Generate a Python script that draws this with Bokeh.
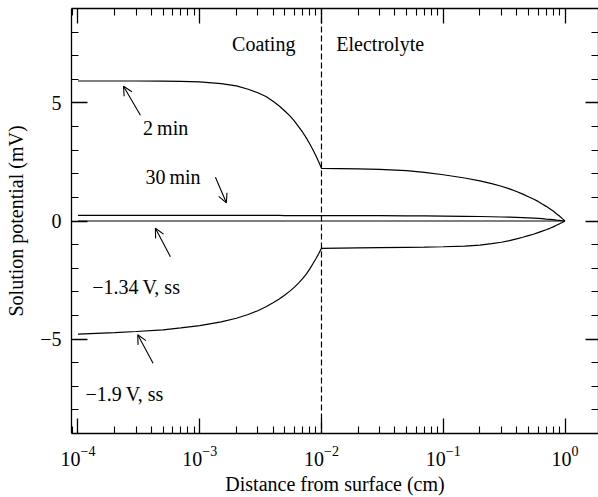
from bokeh.plotting import figure
from bokeh.models import (LogAxis, LinearAxis, FixedTicker, Span, Arrow, OpenHead,
                          Label, Range1d, ColumnDataSource, CustomJSTickFormatter)
from bokeh.embed import file_html
from bokeh.resources import INLINE

# ---------------- data ----------------
distance_cm = [1e-4, 2e-4, 3e-4, 5e-4, 7e-4, 1e-3, 1.5e-3, 2e-3, 2.5e-3, 3e-3, 3.5e-3, 4e-3,
               4.5e-3, 5e-3, 5.5e-3, 6e-3, 6.5e-3, 7e-3, 7.5e-3, 8e-3, 8.5e-3, 9e-3, 9.5e-3, 1e-2,
               2e-2, 3e-2, 5e-2, 7e-2, 0.1, 0.15, 0.2, 0.25, 0.3, 0.35, 0.4, 0.45,
               0.5, 0.55, 0.6, 0.65, 0.7, 0.75, 0.8, 0.85, 0.9, 0.95, 1.0]
phi_2min = [5.93, 5.93, 5.93, 5.92, 5.91, 5.89, 5.82, 5.72, 5.58, 5.43, 5.27, 5.07,
            4.87, 4.66, 4.45, 4.23, 3.99, 3.76, 3.52, 3.27, 3.02, 2.76, 2.50, 2.23,
            2.21, 2.19, 2.13, 2.06, 1.96, 1.82, 1.70, 1.58, 1.47, 1.36, 1.25, 1.14,
            1.03, 0.93, 0.83, 0.72, 0.62, 0.52, 0.42, 0.31, 0.21, 0.10, 0.0]
phi_30min = [0.24, 0.24, 0.24, 0.24, 0.24, 0.24, 0.24, 0.24, 0.24, 0.24, 0.24, 0.24,
             0.24, 0.23, 0.23, 0.23, 0.23, 0.23, 0.23, 0.23, 0.23, 0.23, 0.23, 0.23,
             0.23, 0.23, 0.22, 0.22, 0.21, 0.20, 0.19, 0.18, 0.17, 0.16, 0.15, 0.14,
             0.13, 0.12, 0.11, 0.10, 0.08, 0.07, 0.06, 0.04, 0.03, 0.01, 0.0]
phi_134V_ss = [0.0, 0.0, 0.0, 0.0, 0.0, 0.0, 0.0, 0.0, 0.0, 0.0, 0.0, 0.0,
               0.0, 0.0, 0.0, 0.0, 0.0, 0.0, 0.0, 0.0, 0.0, 0.0, 0.0, 0.0,
               0.0, 0.0, 0.0, 0.0, 0.0, 0.0, 0.0, 0.0, 0.0, 0.0, 0.0, 0.0,
               0.0, 0.0, 0.0, 0.0, 0.0, 0.0, 0.0, 0.0, 0.0, 0.0, 0.0]
phi_19V_ss = [-4.79, -4.73, -4.68, -4.61, -4.53, -4.43, -4.27, -4.12, -3.96, -3.80, -3.63, -3.46,
              -3.30, -3.13, -2.97, -2.80, -2.62, -2.44, -2.25, -2.04, -1.81, -1.60, -1.38, -1.16,
              -1.14, -1.13, -1.12, -1.11, -1.09, -1.06, -1.02, -0.96, -0.90, -0.83, -0.76, -0.69,
              -0.62, -0.56, -0.49, -0.43, -0.37, -0.31, -0.25, -0.18, -0.12, -0.06, 0.0]

coating_boundary_cm = 1e-2
x_major_ticks = [1e-4, 1e-3, 1e-2, 1e-1, 1e0]
x_minor_ticks = [m * 10.0 ** e for e in (-5, -4, -3, -2, -1) for m in range(2, 10)]
y_major_ticks = [-5, 0, 5]
y_minor_ticks = [-8, -7, -6, -4, -3, -2, -1, 1, 2, 3, 4, 6, 7, 8]
y_tick_labels = {-5: "\u22125", 0: "0", 5: "5"}

FONT = "Liberation Serif"

p = figure(width=598, height=497, x_axis_type="log",
           x_range=Range1d(10 ** -4.053, 10 ** 0.275), y_range=Range1d(-9, 9),
           output_backend="svg", toolbar_location=None,
           min_border_left=71, min_border_right=0, min_border_top=8, min_border_bottom=63)
p.background_fill_color = "white"
p.border_fill_color = "white"
p.outline_line_color = None
p.xgrid.visible = False
p.ygrid.visible = False

src = ColumnDataSource(dict(x=distance_cm, a=phi_2min, b=phi_30min, c=phi_134V_ss, d=phi_19V_ss))
for col in ("a", "b", "c", "d"):
    p.line("x", col, source=src, line_color="black", line_width=1.2)

p.add_layout(Span(location=coating_boundary_cm, dimension="height", line_color="black",
                  line_width=1.2, line_dash="6 3"))

def style_axis(ax, labels=True):
    ax.axis_line_color = "black"
    ax.axis_line_width = 1.3
    ax.major_tick_line_color = "black"
    ax.minor_tick_line_color = "black"
    ax.major_tick_line_width = 1.3
    ax.minor_tick_line_width = 1.1
    ax.major_tick_in = 15
    ax.major_tick_out = 0
    ax.minor_tick_in = 7
    ax.minor_tick_out = 0
    ax.major_label_text_font = FONT
    ax.major_label_text_color = "black"
    ax.major_label_text_font_size = "20px"
    ax.axis_label_text_color = "black"
    if not labels:
        ax.formatter = CustomJSTickFormatter(code="return '';")
        ax.major_label_standoff = 0

xb = p.xaxis[0]
xb.ticker = FixedTicker(ticks=x_major_ticks, minor_ticks=x_minor_ticks)
style_axis(xb)
xb.major_label_standoff = 12
xb.axis_label = "Distance from surface (cm)"
xb.axis_label_text_font = FONT
xb.axis_label_text_font_size = "20px"
xb.axis_label_text_font_style = "normal"
xb.axis_label_standoff = 4

yl = p.yaxis[0]
yl.ticker = FixedTicker(ticks=y_major_ticks, minor_ticks=y_minor_ticks)
style_axis(yl)
yl.major_tick_in = 16
yl.major_label_standoff = 10
yl.major_label_overrides = y_tick_labels
yl.axis_label = "Solution potential (mV)"
yl.axis_label_text_font = FONT
yl.axis_label_text_font_size = "20px"
yl.axis_label_text_font_style = "normal"
yl.axis_label_standoff = 10

xt = LogAxis(ticker=FixedTicker(ticks=x_major_ticks, minor_ticks=x_minor_ticks))
style_axis(xt, labels=False)
p.add_layout(xt, "above")

yr = LinearAxis(ticker=FixedTicker(ticks=y_major_ticks, minor_ticks=y_minor_ticks))
style_axis(yr, labels=False)
yr.major_tick_in = 13
p.add_layout(yr, "right")

def label(text, x, y, align="left"):
    p.add_layout(Label(x=x, y=y, text=text, text_font=FONT, text_font_size="20px",
                       text_color="black", text_align=align, text_baseline="alphabetic"))

label("Coating", 10 ** -2.214, 7.51, "right")
label("Electrolyte", 10 ** -1.878, 7.51)
label("2\u2009min", 10 ** -3.465, 3.92)
label("30\u2009min", 10 ** -3.446, 1.87)
label("\u22121.34\u2009V, ss", 10 ** -3.883, -2.78)
label("\u22121.9\u2009V, ss", 10 ** -3.938, -7.32)

def arrow(xs, ys, xe, ye):
    p.add_layout(Arrow(end=OpenHead(size=9, line_width=1.1, line_color="black"),
                       x_start=xs, y_start=ys, x_end=xe, y_end=ye,
                       line_color="black", line_width=1.1))

arrow(10 ** -3.487, 4.48, 10 ** -3.626, 5.71)
arrow(10 ** -2.871, 1.85, 10 ** -2.781, 0.77)
arrow(10 ** -3.241, -1.51, 10 ** -3.364, -0.31)
arrow(10 ** -3.383, -6.02, 10 ** -3.509, -4.82)

open("out.html", "w").write(file_html(p, INLINE))
